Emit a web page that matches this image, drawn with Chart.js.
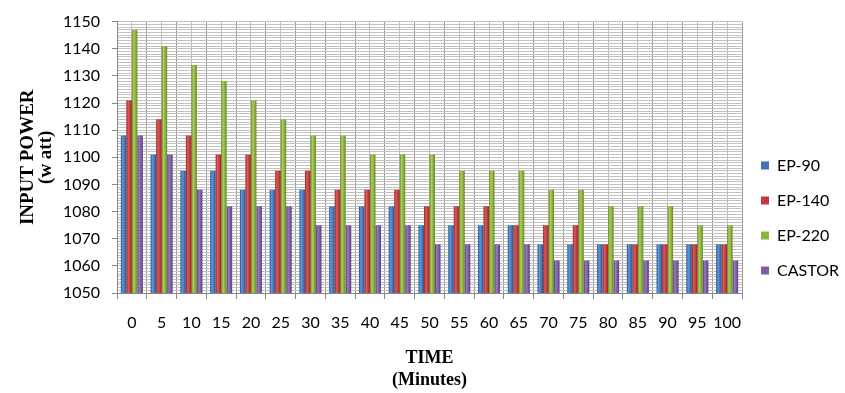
<!DOCTYPE html>
<html>
<head>
<meta charset="utf-8">
<script src="https://cdn.jsdelivr.net/npm/chart.js@4"></script>
<style>
  html, body { margin: 0; padding: 0; background: #fff; }
  #wrap { width: 845px; height: 393px; }
</style>
</head>
<body>
<div id="wrap"><canvas id="chart"></canvas></div>
<script>
// データ
const times = ["0", "5", "10", "15", "20", "25", "30", "35", "40", "45", "50",
               "55", "60", "65", "70", "75", "80", "85", "90", "95", "100"];
const ep90   = [1108, 1101, 1095, 1095, 1088, 1088, 1088, 1082, 1082, 1082, 1075,
                1075, 1075, 1075, 1068, 1068, 1068, 1068, 1068, 1068, 1068];
const ep140  = [1121, 1114, 1108, 1101, 1101, 1095, 1095, 1088, 1088, 1088, 1082,
                1082, 1082, 1075, 1075, 1075, 1068, 1068, 1068, 1068, 1068];
const ep220  = [1147, 1141, 1134, 1128, 1121, 1114, 1108, 1108, 1101, 1101, 1101,
                1095, 1095, 1095, 1088, 1088, 1082, 1082, 1082, 1075, 1075];
const castor = [1108, 1101, 1088, 1082, 1082, 1082, 1075, 1075, 1075, 1075, 1068,
                1068, 1068, 1068, 1062, 1062, 1062, 1062, 1062, 1062, 1062];
const yMin = 1050;
const yMax = 1150;

// 系列の色 [基本, 明るい, 暗い]
const colBlue   = ['#3F72B6', '#6296d6', '#2b5590'];
const colRed    = ['#C33A3A', '#de5a55', '#962628'];
const colGreen  = ['#8DB43C', '#abd05a', '#688a26'];
const colPurple = ['#7D5AA5', '#9878c2', '#5b3f7e'];

// * =============== 凡例の幅を固定 =============== *
const legendWidthFix = {
    id: 'legendWidthFix',
    beforeLayout(chart) {
        const lg = chart.legend;
        if (lg && !lg._fixed) {
            const fit = lg.fit;
            lg.fit = function () {
                fit.call(this);
                this.width = 103;
            };
            lg._fixed = true;
        }
    }
};

const serif = "'Liberation Serif', 'Times New Roman', serif";
const sans = "Lato, 'Open Sans', sans-serif";

// 円柱っぽいグラデーション
function barFill(c) {
    return function (ctx) {
        const el = ctx.element;
        if (!el || !isFinite(el.x) || !isFinite(el.width)) return c[0];
        const w = el.width;
        const g = ctx.chart.ctx.createLinearGradient(el.x - w / 2, 0, el.x + w / 2, 0);
        g.addColorStop(0, c[2]);
        g.addColorStop(0.35, c[1]);
        g.addColorStop(1, c[2]);
        return g;
    };
}

function makeSet(label, data, c) {
    return {
        label: label,
        data: data,
        backgroundColor: barFill(c),
        baseColor: c[0],
        borderWidth: 0,
        categoryPercentage: 0.74,
        barPercentage: 1.0
    };
}

const chart = new Chart(document.getElementById('chart'), {
    type: 'bar',
    data: {
        labels: times,
        datasets: [
            makeSet('EP-90', ep90, colBlue),
            makeSet('EP-140', ep140, colRed),
            makeSet('EP-220', ep220, colGreen),
            makeSet('CASTOR', castor, colPurple)
        ]
    },
    options: {
        responsive: true,
        maintainAspectRatio: false,
        animation: false,
        layout: { padding: { top: 3, left: 0, right: 0, bottom: 0 } },
        scales: {
            x: {
                offset: true,
                afterFit: (s) => { s.height = 100; },
                grid: {
                    offset: true,
                    color: '#9a9a9a',
                    tickLength: 6,
                    tickColor: '#888'
                },
                border: { color: '#888' },
                ticks: {
                    color: '#000',
                    padding: 14,
                    maxRotation: 0,
                    autoSkip: false,
                    font: { family: sans, size: 16 }
                },
                title: {
                    display: true,
                    text: ['TIME', '(Minutes)'],
                    color: '#000',
                    padding: { top: 0, bottom: 1 },
                    font: { family: serif, size: 18, weight: 'bold', lineHeight: 1.25 }
                }
            },
            x2: {
                type: 'category',
                position: 'bottom',
                offset: true,
                grid: { offset: false, color: '#bdbdbd', drawTicks: false },
                border: { display: false },
                ticks: { display: false }
            },
            y: {
                min: yMin,
                max: yMax,
                afterFit: (s) => { s.width = 117; },
                grid: {
                    color: '#c2c2c2',
                    tickLength: 5,
                    tickColor: (c) => (c.tick && c.tick.value % 10 === 0) ? '#888' : 'rgba(0,0,0,0)'
                },
                border: { color: '#888' },
                ticks: {
                    stepSize: 1,
                    autoSkip: false,
                    maxTicksLimit: 200,
                    padding: 12,
                    color: '#000',
                    font: { family: sans, size: 16 },
                    callback: (v) => (v % 10 === 0) ? String(v) : ''
                },
                title: {
                    display: true,
                    text: ['INPUT POWER', '(w att)'],
                    color: '#000',
                    padding: { top: 19, bottom: 0 },
                    font: { family: serif, size: 19, weight: 'bold', lineHeight: 0.95 }
                }
            }
        },
        plugins: {
            legend: {
                position: 'right',
                align: 'center',
                title: {
                    display: true,
                    text: ' ',
                    padding: { top: 12, bottom: 12 },
                    font: { size: 16, lineHeight: 1.0 }
                },
                labels: {
                    boxWidth: 8,
                    boxHeight: 8,
                    padding: 19,
                    color: '#000',
                    font: { family: sans, size: 16, lineHeight: 1.0 },
                    generateLabels: function (ch) {
                        const items = Chart.defaults.plugins.legend.labels.generateLabels(ch);
                        items.forEach(function (it) {
                            const c = ch.data.datasets[it.datasetIndex].baseColor;
                            it.fillStyle = c;
                            it.strokeStyle = c;
                            it.lineWidth = 0;
                        });
                        return items;
                    }
                }
            },
            tooltip: { enabled: false }
        }
    },
    plugins: [legendWidthFix]
});
// 棒の位置が決まってからグラデーションを当てる
chart.update();
</script>
</body>
</html>
